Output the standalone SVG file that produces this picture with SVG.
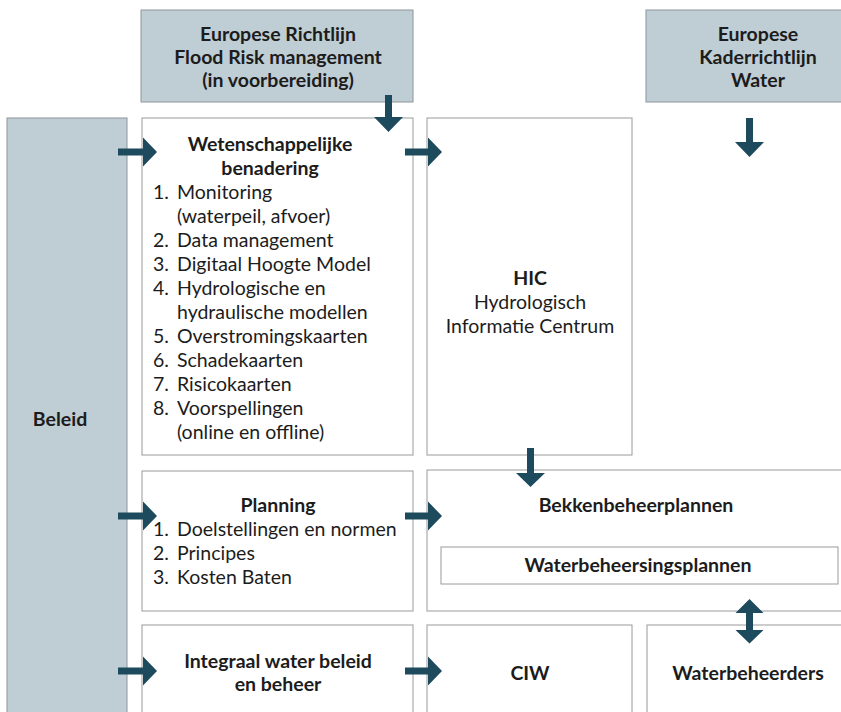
<svg xmlns="http://www.w3.org/2000/svg" width="841" height="712" viewBox="0 0 841 712">
<style>
.blue{fill:#bfcdd4;stroke:#8f9599;stroke-width:1}
.box{fill:#ffffff;stroke:#9a9a9a;stroke-width:1}
text{font-family:"Lato","Open Sans",sans-serif;font-size:19.5px;fill:#1c1c1c}
.b{font-weight:bold}
.c{text-anchor:middle}
.arr{fill:#1e4a5d}
</style>
<rect width="841" height="712" fill="#ffffff"/>
<g id="frm">
<rect class="blue" x="141" y="10" width="272" height="92"/>
<text class="b c" x="278" y="41">Europese Richtlijn</text>
<text class="b c" x="278" y="64">Flood Risk management</text>
<text class="b c" x="278" y="87">(in voorbereiding)</text>
</g>
<g id="krw">
<rect class="blue" x="646" y="10" width="200" height="92"/>
<text class="b c" x="758" y="41">Europese</text>
<text class="b c" x="758" y="64">Kaderrichtlijn</text>
<text class="b c" x="758" y="87">Water</text>
</g>
<g id="beleid">
<rect class="blue" x="7" y="118" width="120" height="600"/>
<text class="b c" x="60" y="426">Beleid</text>
</g>
<g id="wet">
<rect class="box" x="142" y="118" width="271" height="337"/>
<text class="b c" x="270" y="151">Wetenschappelijke</text>
<text class="b c" x="270" y="175">benadering</text>
<text x="153" y="199">1.</text><text x="177" y="199">Monitoring</text>
<text x="177" y="223">(waterpeil, afvoer)</text>
<text x="153" y="247">2.</text><text x="177" y="247">Data management</text>
<text x="153" y="271">3.</text><text x="177" y="271">Digitaal Hoogte Model</text>
<text x="153" y="295">4.</text><text x="177" y="295">Hydrologische en</text>
<text x="177" y="319">hydraulische modellen</text>
<text x="153" y="343">5.</text><text x="177" y="343">Overstromingskaarten</text>
<text x="153" y="367">6.</text><text x="177" y="367">Schadekaarten</text>
<text x="153" y="391">7.</text><text x="177" y="391">Risicokaarten</text>
<text x="153" y="415">8.</text><text x="177" y="415">Voorspellingen</text>
<text x="177" y="439">(online en offline)</text>
</g>
<g id="hic">
<rect class="box" x="427" y="118" width="205" height="337"/>
<text class="b c" x="530" y="285">HIC</text>
<text class="c" x="530" y="309">Hydrologisch</text>
<text class="c" x="530" y="333">Informatie Centrum</text>
</g>
<g id="planning">
<rect class="box" x="142" y="471" width="271" height="140"/>
<text class="b c" x="278" y="512">Planning</text>
<text x="153" y="536">1.</text><text x="177" y="536">Doelstellingen en normen</text>
<text x="153" y="560">2.</text><text x="177" y="560">Principes</text>
<text x="153" y="584">3.</text><text x="177" y="584">Kosten Baten</text>
</g>
<g id="bekken">
<rect class="box" x="427" y="470" width="420" height="141"/>
<text class="b c" x="636" y="512">Bekkenbeheerplannen</text>
</g>
<g id="wbp">
<rect class="box" x="441" y="547" width="397" height="37"/>
<text class="b c" x="638" y="572">Waterbeheersingsplannen</text>
</g>
<g id="iwb">
<rect class="box" x="142" y="625" width="271" height="95"/>
<text class="b c" x="278" y="668">Integraal water beleid</text>
<text class="b c" x="278" y="691">en beheer</text>
</g>
<g id="ciw">
<rect class="box" x="427" y="625" width="205" height="95"/>
<text class="b c" x="530" y="680">CIW</text>
</g>
<g id="wbh">
<rect class="box" x="647" y="625" width="200" height="95"/>
<text class="b c" x="748" y="680">Waterbeheerders</text>
</g>
<g id="connectors">
<path class="arr" d="M118,148.5h25v-11l14,14.5l-14,14.5v-11h-25z"/>
<path class="arr" d="M405,148.5h23v-11l14,14.5l-14,14.5v-11h-23z"/>
<path class="arr" d="M118,512.5h25v-11l14,14.5l-14,14.5v-11h-25z"/>
<path class="arr" d="M405,512.5h23v-11l14,14.5l-14,14.5v-11h-23z"/>
<path class="arr" d="M118,667.5h25v-11l14,14.5l-14,14.5v-11h-25z"/>
<path class="arr" d="M405,667.5h23v-11l14,14.5l-14,14.5v-11h-23z"/>
<path class="arr" d="M385,95h7v22h11l-14.5,15l-14.5,-15h11z"/>
<path class="arr" d="M746,118h7v24h11l-14.5,15l-14.5,-15h11z"/>
<path class="arr" d="M527,448h7v25h11l-14.5,14l-14.5,-14h11z"/>
<path class="arr" d="M749.5,599l14,14h-10.5v17h10.5l-14,13.5l-14,-13.5h10.5v-17h-10.5z"/>
</g>
</svg>
